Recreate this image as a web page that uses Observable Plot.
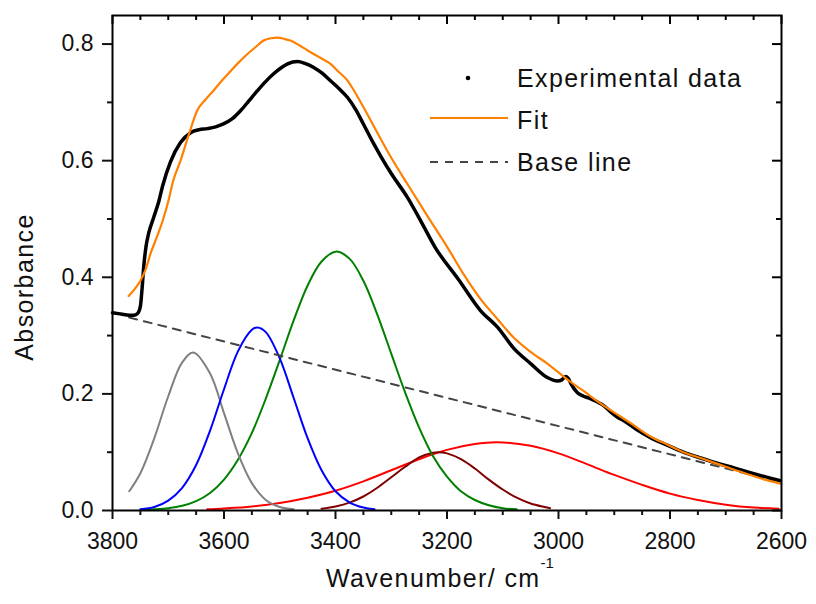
<!DOCTYPE html>
<html><head><meta charset="utf-8">
<script src="https://cdn.jsdelivr.net/npm/d3@7"></script>
<script src="https://cdn.jsdelivr.net/npm/@observablehq/plot@0.6"></script>
<style>
body{margin:0;background:#fff;}
#chart{width:816px;height:604px;}
</style>
</head><body><div id="chart"></div>
<script>
// ---- data ----
const expWavenumber = [3800,3785,3770,3762,3755,3750,3747,3744,3740,3735,3726,3717,3710,3696,3678,3660,3645,3630,3615,3601,3585,3570,3555,3540,3525,3511,3498,3486,3468,3455,3439,3424,3409,3393,3378,3364,3350,3332,3319,3300,3271,3245,3221,3180,3140,3109,3081,3050,3020,3002,2994,2987,2982,2978,2966,2955,2943,2930,2919,2905,2894,2883,2860,2835,2805,2776,2745,2715,2685,2656,2630,2602];
const expAbsorbance = [0.339,0.337,0.335,0.335,0.338,0.350,0.380,0.418,0.452,0.476,0.503,0.530,0.557,0.598,0.631,0.648,0.653,0.655,0.658,0.663,0.672,0.686,0.703,0.720,0.736,0.749,0.759,0.766,0.770,0.767,0.760,0.750,0.737,0.723,0.708,0.688,0.663,0.630,0.608,0.578,0.537,0.493,0.451,0.397,0.343,0.314,0.279,0.252,0.228,0.222,0.224,0.230,0.226,0.218,0.202,0.196,0.192,0.186,0.180,0.168,0.160,0.154,0.139,0.125,0.112,0.100,0.090,0.081,0.073,0.065,0.058,0.051];

const fitWavenumber = [3771,3760,3750,3740,3732,3720,3710,3700,3691,3678,3663,3648,3633,3619,3604,3588,3573,3558,3543,3529,3516,3504,3492,3481,3465,3450,3430,3409,3395,3378,3368,3350,3325,3300,3271,3235,3199,3170,3140,3110,3081,3050,3020,2982,2955,2930,2900,2871,2835,2805,2776,2745,2715,2685,2656,2630,2602];
const fitAbsorbance = [0.368,0.380,0.394,0.415,0.440,0.470,0.497,0.530,0.566,0.600,0.645,0.686,0.705,0.720,0.737,0.754,0.769,0.783,0.795,0.806,0.810,0.811,0.809,0.806,0.798,0.789,0.778,0.766,0.753,0.737,0.722,0.692,0.648,0.605,0.560,0.505,0.451,0.405,0.363,0.329,0.297,0.272,0.252,0.223,0.205,0.187,0.168,0.150,0.127,0.113,0.100,0.090,0.080,0.070,0.061,0.053,0.046];

const baseWavenumber = [3770, 2600];
const baseAbsorbance = [0.331, 0.048];

const grayWavenumber = [3770,3750,3725,3700,3675,3655,3625,3600,3575,3550,3525,3500,3475];
const grayAbsorbance = [0.033,0.064,0.124,0.196,0.254,0.271,0.235,0.167,0.098,0.047,0.018,0.006,0.002];

const blueWavenumber = [3750,3725,3700,3675,3650,3625,3600,3575,3550,3540,3525,3500,3475,3450,3425,3400,3375,3350,3330];
const blueAbsorbance = [0.002,0.006,0.017,0.039,0.078,0.137,0.208,0.273,0.310,0.314,0.306,0.261,0.193,0.124,0.069,0.033,0.014,0.005,0.002];

const greenWavenumber = [3745,3725,3700,3675,3650,3625,3600,3575,3550,3525,3500,3475,3450,3425,3400,3375,3350,3325,3300,3275,3250,3225,3200,3175,3150,3125,3100,3075];
const greenAbsorbance = [0.001,0.002,0.004,0.008,0.016,0.030,0.053,0.087,0.133,0.192,0.258,0.326,0.386,0.427,0.444,0.432,0.394,0.336,0.269,0.202,0.142,0.093,0.058,0.033,0.018,0.009,0.004,0.002];

const redWavenumber = [3630,3600,3550,3500,3450,3400,3350,3300,3250,3200,3150,3110,3050,3000,2950,2900,2850,2800,2750,2700,2650,2605];
const redAbsorbance = [0.002,0.0035,0.007,0.013,0.022,0.034,0.050,0.069,0.088,0.104,0.114,0.117,0.111,0.098,0.080,0.061,0.044,0.029,0.018,0.010,0.005,0.003];

const brownWavenumber = [3425,3400,3375,3350,3325,3300,3275,3250,3225,3215,3200,3175,3150,3125,3100,3075,3050,3025,3015];
const brownAbsorbance = [0.003,0.007,0.0135,0.024,0.039,0.057,0.075,0.091,0.099,0.100,0.098,0.088,0.072,0.053,0.036,0.022,0.012,0.006,0.004];

const xMajorTicks = [3800,3600,3400,3200,3000,2800,2600];
const xMinorTicks = [3750,3700,3650,3550,3500,3450,3350,3300,3250,3150,3100,3050,2950,2900,2850,2750,2700,2650];
const yMajorTicks = [0.0,0.2,0.4,0.6,0.8];
const yMinorTicks = [0.1,0.3,0.5,0.7];

// ---- build ----
const rows = (xs, ys) => xs.map((x, i) => ({x, y: ys[i]}));
const FONT = "'Liberation Sans', Arial, sans-serif";
const W = 816, H = 604, ML = 112, MR = 35, MT = 15, MB = 94;
const innerW = W - ML - MR, innerH = H - MT - MB;

const comp = (xs, ys, color) => Plot.line(rows(xs, ys), {x: "x", y: "y", stroke: color, strokeWidth: 2, curve: "catmull-rom"});

const chart = Plot.plot({
  width: W, height: H,
  marginLeft: ML, marginRight: MR, marginTop: MT, marginBottom: MB,
  x: {domain: [3800, 2600], label: null},
  y: {domain: [0, 0.849], label: null},
  style: {fontFamily: FONT, color: "#111", background: "white", overflow: "visible"},
  marks: [
    comp(redWavenumber, redAbsorbance, "#ff0000"),
    comp(brownWavenumber, brownAbsorbance, "#800000"),
    comp(greenWavenumber, greenAbsorbance, "#008000"),
    comp(grayWavenumber, grayAbsorbance, "#808080"),
    comp(blueWavenumber, blueAbsorbance, "#0000ff"),
    Plot.line(rows(baseWavenumber, baseAbsorbance), {x: "x", y: "y", stroke: "#444", strokeWidth: 2, strokeDasharray: "8,7"}),
    Plot.line(rows(expWavenumber, expAbsorbance), {x: "x", y: "y", stroke: "black", strokeWidth: 3.5, curve: "monotone-x"}),
    Plot.line(rows(fitWavenumber, fitAbsorbance), {x: "x", y: "y", stroke: "#ff8000", strokeWidth: 2.2, curve: "monotone-x"}),
    Plot.frame({stroke: "black", strokeWidth: 2}),
    // bottom & left axes (ticks outward)
    Plot.axisX({ticks: xMajorTicks, tickSize: 9, tickPadding: 13, tickFormat: d => String(d), fontSize: 23, label: null, strokeWidth: 2}),
    Plot.axisX({ticks: xMinorTicks, tickSize: 5, tickFormat: () => "", label: null, strokeWidth: 2}),
    Plot.axisY({ticks: yMajorTicks, tickSize: 10, tickPadding: 9, tickFormat: d3.format(".1f"), fontSize: 23, label: null, strokeWidth: 2}),
    Plot.axisY({ticks: yMinorTicks, tickSize: 5, tickFormat: () => "", label: null, strokeWidth: 2}),
    // top & right mirrored ticks (inward)
    Plot.tickX(xMajorTicks, {x: d => d, stroke: "black", strokeWidth: 2, insetBottom: innerH - 9}),
    Plot.tickX(xMinorTicks, {x: d => d, stroke: "black", strokeWidth: 2, insetBottom: innerH - 5}),
    Plot.tickY(yMajorTicks, {y: d => d, stroke: "black", strokeWidth: 2, insetLeft: innerW - 9}),
    Plot.tickY(yMinorTicks, {y: d => d, stroke: "black", strokeWidth: 2, insetLeft: innerW - 5})
  ]
});

const svg = d3.select(chart);
const T = (sel) => sel.attr("text-anchor", "start").style("font-family", FONT).style("font-size", "25px").style("letter-spacing", "1.4px").attr("fill", "#111");

// axis titles
T(svg.append("text"))
  .attr("transform", "translate(33,287) rotate(-90)")
  .attr("text-anchor", "middle")
  .text("Absorbance");
const xt = T(svg.append("text")).attr("x", 326).attr("y", 587);
xt.append("tspan").text("Wavenumber/ cm");
xt.append("tspan").attr("dy", -19).style("font-size", "15px").style("letter-spacing", "0px").text("-1");

// legend
const lg = svg.append("g");
lg.append("circle").attr("cx", 468).attr("cy", 78).attr("r", 2.3).attr("fill", "black");
T(lg.append("text")).attr("x", 517).attr("y", 87).text("Experimental data");
lg.append("line").attr("x1", 430).attr("x2", 508).attr("y1", 118).attr("y2", 118).attr("stroke", "#ff8000").attr("stroke-width", 2.2);
T(lg.append("text")).attr("x", 517).attr("y", 129).text("Fit");
lg.append("line").attr("x1", 430).attr("x2", 508).attr("y1", 162).attr("y2", 162).attr("stroke", "#444").attr("stroke-width", 2).attr("stroke-dasharray", "8,7");
T(lg.append("text")).attr("x", 517).attr("y", 171).text("Base line");

document.getElementById("chart").appendChild(chart);
</script>
</body></html>
